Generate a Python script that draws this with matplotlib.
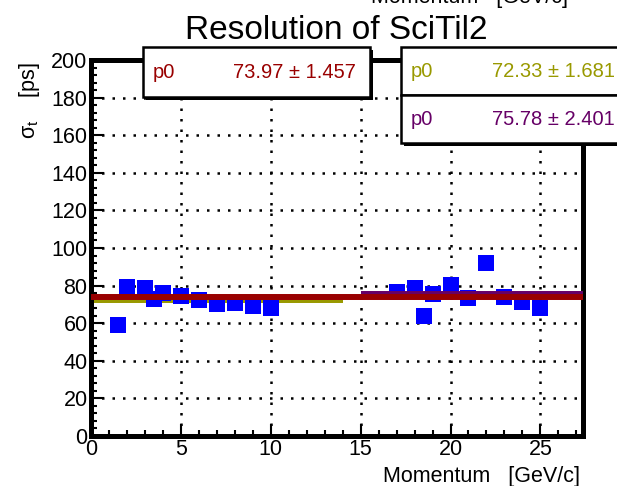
import matplotlib
matplotlib.use("Agg")
import matplotlib.pyplot as plt
from matplotlib.patches import Rectangle

plt.rcParams['font.family'] = ['Liberation Sans', 'DejaVu Sans']
plt.rcParams['mathtext.fontset'] = 'custom'
plt.rcParams['mathtext.rm'] = 'Liberation Sans'
plt.rcParams['mathtext.it'] = 'Liberation Sans'

# measured resolution points (momentum GeV/c, sigma_t ps)
momentum = [1.5, 2.0, 3.0, 3.5, 4.0, 5.0, 6.0, 7.0, 8.0, 9.0, 10.0,
            17.0, 18.0, 18.5, 19.0, 20.0, 21.0, 22.0, 23.0, 24.0, 25.0]
sigma_t = [59.3, 79.1, 78.6, 72.8, 76.0, 74.4, 72.1, 70.2, 70.9, 69.3, 67.9,
           76.5, 78.6, 64.0, 75.4, 80.3, 73.3, 91.9, 73.7, 71.2, 68.1]

# fit results (p0, error) and x-ranges
fit_names = ['all', 'low', 'high']
fit_p0 = [73.97, 72.33, 75.78]
fit_err = [1.457, 1.681, 2.401]
fit_xmin = [0.0, 0.0, 15.0]
fit_xmax = [27.37, 14.0, 27.37]
fit_colors = ['#990000', '#999900', '#660066']

W, H = 617, 486
def px(x, y):
    return (x / W, 1 - y / H)

fig = plt.figure(figsize=(6.17, 4.86), dpi=100)
ax = fig.add_axes([91 / W, (H - 436) / H, (583 - 91) / W, (436 - 60) / H])
ax.set_xlim(0, 27.37)
ax.set_ylim(0, 200)

# olive fit below markers, purple & red on top
ax.plot([fit_xmin[1], fit_xmax[1]], [fit_p0[1]] * 2, color=fit_colors[1], lw=4.3, zorder=2,
        solid_capstyle='butt')
ax.plot(momentum, sigma_t, 's', color='#0000ff', ms=12.2, mew=0, zorder=3)
ax.plot([fit_xmin[2], fit_xmax[2]], [fit_p0[2]] * 2, color=fit_colors[2], lw=4.3, zorder=4,
        solid_capstyle='butt')
ax.plot([fit_xmin[0], fit_xmax[0]], [fit_p0[0]] * 2, color=fit_colors[0], lw=4.3, zorder=5,
        solid_capstyle='butt')

ax.set_xticks(range(0, 26, 5))
ax.set_xticks(range(0, 28), minor=True)
ax.set_yticks(range(0, 201, 20))
ax.set_yticks(range(0, 201, 4), minor=True)
ax.grid(True, which='major', color='black', lw=1.8, linestyle=(0, (1, 3.2)))
ax.tick_params(which='both', direction='in', labelsize=15.5, width=1.5, pad=2.5)
ax.tick_params(which='major', length=9)
ax.tick_params(which='minor', length=4.5)
for s in ax.spines.values():
    s.set_linewidth(3.6)

fig.text(*px(336, 30), 'Resolution of SciTil2', fontsize=24, ha='center', va='center')
fig.text(*px(580, 482), 'Momentum   [GeV/c]', fontsize=15.5, ha='right', va='baseline')
# leftover axis title from a pad above, mostly cut off at the top edge
fig.text(*px(568, 3), 'Momentum   [GeV/c]', fontsize=15.5, ha='right', va='baseline')
fig.text(*px(30, 62), r'$\sigma_{t}$    [ps]', fontsize=15.5, ha='center', va='top', rotation=90)

# stat boxes
boxes = [(143, 47, 370, 97, 0), (401, 47, 660, 95, 1), (401, 95, 660, 143, 2)]
for x0, y0, x1, y1, k in boxes:
    shadow = Rectangle(px(x0 + 3, y1 + 3), (x1 - x0) / W, (y1 - y0) / H,
                       transform=fig.transFigure, facecolor='black', edgecolor='none',
                       zorder=10)
    box = Rectangle(px(x0, y1), (x1 - x0) / W, (y1 - y0) / H, transform=fig.transFigure,
                    facecolor='white', edgecolor='black', lw=1.8, zorder=11)
    fig.patches.extend([shadow, box])
    yc = (y0 + y1) / 2
    right = 356 if k == 0 else 615
    fig.text(*px(x0 + 10, yc), 'p0', color=fit_colors[k], fontsize=14.5,
             ha='left', va='center', zorder=12)
    fig.text(*px(right, yc), '%.2f \u00b1 %.3f' % (fit_p0[k], fit_err[k]), color=fit_colors[k],
             fontsize=14.5, ha='right', va='center', zorder=12)

fig.savefig('out.png', dpi=100)
